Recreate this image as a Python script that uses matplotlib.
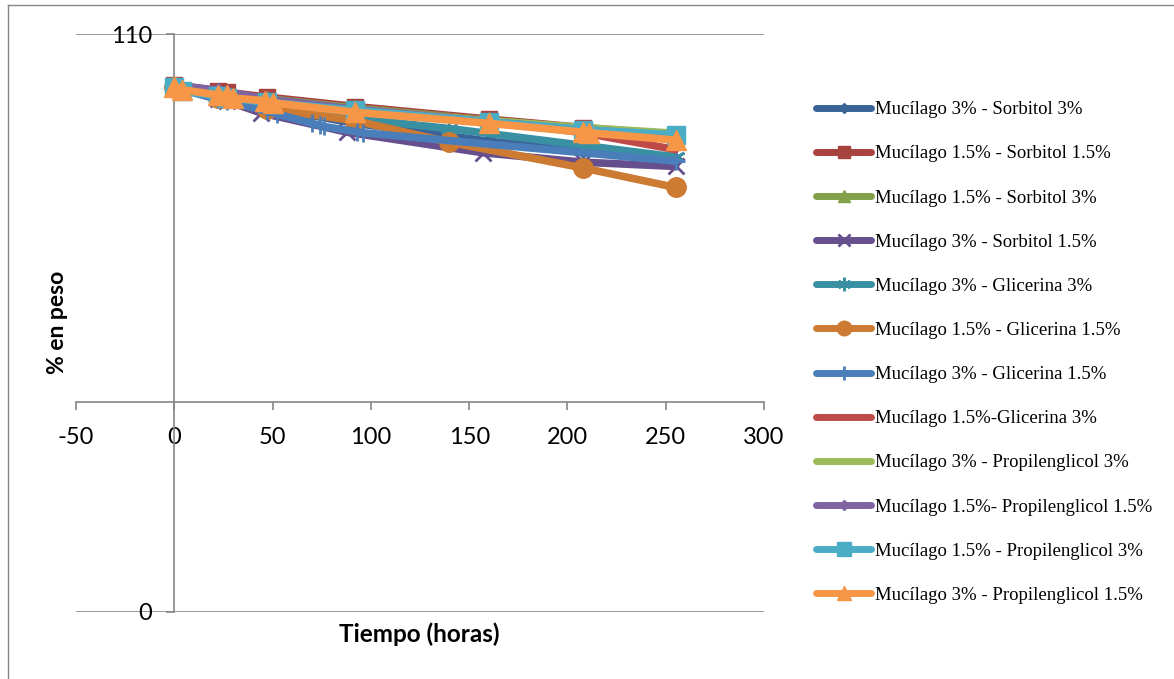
import matplotlib.pyplot as plt
from matplotlib.lines import Line2D

plt.rcParams["axes.unicode_minus"] = False

# tiempos (horas) y % en peso de cada formulación
t_sorb = [0, 22, 27, 47, 92, 160, 208, 255]

labels = [
    "Mucílago 3% - Sorbitol 3%",
    "Mucílago 1.5% - Sorbitol 1.5%",
    "Mucílago 1.5% - Sorbitol 3%",
    "Mucílago 3% - Sorbitol 1.5%",
    "Mucílago 3% - Glicerina 3%",
    "Mucílago 1.5% - Glicerina 1.5%",
    "Mucílago 3% - Glicerina 1.5%",
    "Mucílago 1.5%-Glicerina 3%",
    "Mucílago 3% - Propilenglicol 3%",
    "Mucílago 1.5%- Propilenglicol 1.5%",
    "Mucílago 1.5% - Propilenglicol 3%",
    "Mucílago 3% - Propilenglicol 1.5%",
]

times = [
    t_sorb,
    t_sorb,
    t_sorb,
    [0, 22, 27, 44, 88, 157, 208, 255],
    [0, 22, 27, 47, 70, 140, 255],
    [0, 22, 47, 92, 140, 208, 255],
    [0, 3, 22, 27, 47, 52, 70, 74, 76, 93, 96, 255],
    t_sorb,
    t_sorb,
    t_sorb,
    [0, 4, 22, 27, 47, 92, 160, 208, 255],
    [0, 4, 22, 27, 30, 46, 50, 92, 160, 208, 211, 255],
]

values = [
    [100, 98.2, 97.8, 96.0, 93.0, 89.6, 87.8, 86.0],
    [100.3, 99.2, 98.9, 98.0, 96.2, 93.8, 92.2, 90.8],
    [100, 99.0, 98.7, 97.7, 95.9, 93.6, 92.0, 91.0],
    [100, 97.6, 97.2, 95.0, 91.3, 87.4, 85.6, 84.8],
    [100, 98.0, 97.6, 95.8, 94.8, 92.0, 86.6],
    [100, 97.9, 95.8, 93.5, 89.4, 84.5, 80.8],
    [100, 99.5, 97.6, 97.2, 95.3, 94.8, 93.0, 92.6, 92.4, 91.4, 91.2, 85.8],
    [100, 98.6, 98.3, 97.2, 95.6, 93.6, 91.2, 88.0],
    [100, 98.7, 98.5, 97.3, 95.6, 93.5, 92.2, 91.1],
    [100.3, 99.3, 99.0, 97.6, 95.7, 93.3, 91.8, 90.5],
    [100, 99.2, 98.2, 97.9, 97.0, 95.5, 93.3, 91.8, 90.8],
    [100, 99.4, 98.4, 98.3, 97.8, 97.3, 96.9, 95.1, 93.0, 91.3, 91.2, 89.8],
]

colors = ["#3A6498", "#A8423F", "#82A04A", "#664F8C", "#3A90A3", "#CD7A32",
          "#4A7EBB", "#BE4B48", "#9BBB59", "#8064A2", "#4BACC6", "#F79646"]
markers = ["D", "s", "^", "x", (6, 2, 0), "o", "+", None, None, "D", "s", "^"]
msizes = [7, 12, 12, 11, 13, 14, 13, 0, 0, 7, 13, 14]

fig = plt.figure(figsize=(11.74, 6.79), dpi=100)
ax = fig.add_axes([76 / 1174, 1 - 612 / 679, (764 - 76) / 1174, (612 - 34) / 679])

handles = []
for i in range(len(labels)):
    m = markers[i]
    mew = 2 if m in ("x", "+", (6, 2, 0)) else 1
    ax.plot(times[i], values[i], color=colors[i], lw=5.5, marker=m,
            markersize=msizes[i], markeredgewidth=mew, markeredgecolor=colors[i],
            solid_capstyle="round", zorder=3 + i)
    handles.append(Line2D([], [], color=colors[i], lw=5, marker=m,
                          markersize=msizes[i] * 0.75, markeredgewidth=mew,
                          solid_capstyle="round"))

ax.set_xlim(-50, 300)
ax.set_ylim(0, 110)

grid = "#868686"
ax.axhline(110, color=grid, lw=1.2, zorder=1)
ax.axhline(0, color=grid, lw=1.2, zorder=1)

for s in ["top", "right"]:
    ax.spines[s].set_visible(False)
ax.spines["left"].set_position(("data", 0))
ax.spines["bottom"].set_position(("data", 40))
ax.spines["left"].set_color(grid)
ax.spines["bottom"].set_color(grid)
ax.spines["left"].set_linewidth(1.2)
ax.spines["bottom"].set_linewidth(1.2)

ax.set_xticks(range(-50, 301, 50))
ax.set_yticks([0, 110])
ax.tick_params(axis="x", direction="out", length=6, width=1.2, color=grid,
               pad=12, labelsize=17)
ax.tick_params(axis="y", direction="out", length=6, width=1.2, color=grid,
               pad=10, labelsize=17)
for lab in ax.get_xticklabels() + ax.get_yticklabels():
    lab.set_family("Lato")

fig.text(58 / 1174, 1 - 322 / 679, "% en peso", rotation=90, ha="center",
         va="center", fontsize=16.5, fontweight="bold", family="Lato")
fig.text(419 / 1174, 1 - 634 / 679, "Tiempo (horas)", ha="center", va="center",
         fontsize=17.5, fontweight="bold", family="Lato")

fig.legend(handles, labels, loc="center left",
           bbox_to_anchor=(799 / 1174, 1 - 352.5 / 679), frameon=False,
           prop={"family": "Liberation Serif", "size": 13.5},
           handlelength=2.95, handletextpad=0.2, labelspacing=1.44)

# marco del gráfico
fig.add_artist(Line2D([8 / 1174, 8 / 1174], [0, 1 - 5 / 679], color=grid, lw=1,
                      transform=fig.transFigure))
fig.add_artist(Line2D([8 / 1174, 1], [1 - 5 / 679, 1 - 5 / 679], color=grid, lw=1,
                      transform=fig.transFigure))

fig.savefig("out.png", dpi=100)
